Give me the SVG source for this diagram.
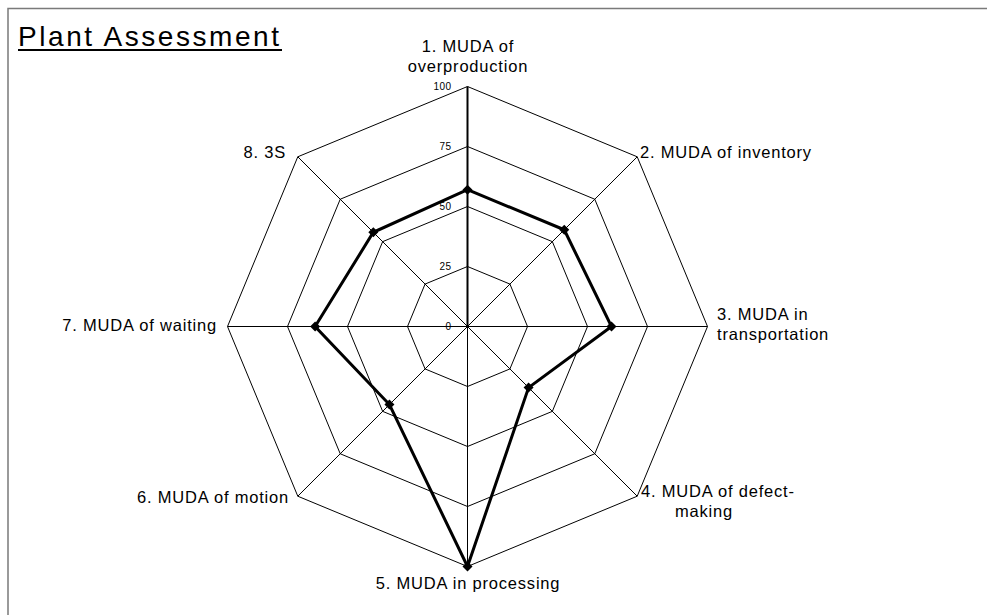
<svg xmlns="http://www.w3.org/2000/svg" width="987" height="615" viewBox="0 0 987 615">
  <style>
    .frame { fill: none; stroke: #7a7a7a; stroke-width: 1.5; }
    .ring { fill: none; stroke: #000; stroke-width: 1; }
    .spoke { stroke: #000; stroke-width: 1; }
    .axis { stroke: #000; stroke-width: 2; }
    .series { fill: none; stroke: #000; stroke-width: 3; stroke-linejoin: miter; }
    .cat { font-family: "Liberation Sans", Arial, sans-serif; font-size: 16.5px; letter-spacing: 0.8px; fill: #000; }
    .tick { font-family: "Liberation Sans", Arial, sans-serif; font-size: 10px; letter-spacing: 0.4px; fill: #000; text-anchor: end; }
    .title { font-family: "Liberation Sans", Arial, sans-serif; font-size: 28px; fill: #000; }
  </style>
  <defs>
    <path id="pt" d="M0,-5 L5,0 L0,5 L-5,0 Z" fill="#000"/>
  </defs>

  <rect width="987" height="615" fill="#fff"/>
  <!-- chart area frame -->
  <path class="frame" d="M8,620 L8,8.5 L990,8.5"/>

  <!-- title -->
  <g id="title">
    <text class="title" x="18" y="45.5" textLength="261" lengthAdjust="spacing">Plant Assessment</text>
    <rect x="18" y="49" width="264" height="2" fill="#000"/>
  </g>

  <!-- grid: rings at 25, 50, 75, 100 and spokes -->
  <g id="grid">
    <polygon class="ring" points="467.5,266.5 509.93,284.07 527.5,326.5 509.93,368.93 467.5,386.5 425.07,368.93 407.5,326.5 425.07,284.07"/>
    <polygon class="ring" points="467.5,206.5 552.35,241.65 587.5,326.5 552.35,411.35 467.5,446.5 382.65,411.35 347.5,326.5 382.65,241.65"/>
    <polygon class="ring" points="467.5,146.5 594.78,199.22 647.5,326.5 594.78,453.78 467.5,506.5 340.22,453.78 287.5,326.5 340.22,199.22"/>
    <polygon class="ring" points="467.5,86.5 637.21,156.79 707.5,326.5 637.21,496.21 467.5,566.5 297.79,496.21 227.5,326.5 297.79,156.79"/>
    <line class="spoke" x1="467.5" y1="326.5" x2="637.21" y2="156.79"/>
    <line class="spoke" x1="467.5" y1="326.5" x2="707.5" y2="326.5"/>
    <line class="spoke" x1="467.5" y1="326.5" x2="637.21" y2="496.21"/>
    <line class="spoke" x1="467.5" y1="326.5" x2="467.5" y2="566.5"/>
    <line class="spoke" x1="467.5" y1="326.5" x2="297.79" y2="496.21"/>
    <line class="spoke" x1="467.5" y1="326.5" x2="227.5" y2="326.5"/>
    <line class="spoke" x1="467.5" y1="326.5" x2="297.79" y2="156.79"/>
    <line class="axis" x1="467.5" y1="326.5" x2="467.5" y2="86.5"/>
  </g>

  <!-- value axis labels -->
  <g id="ticks">
    <text class="tick" x="451.5" y="90.3">100</text>
    <text class="tick" x="451.5" y="150.3">75</text>
    <text class="tick" x="451.5" y="210.3">50</text>
    <text class="tick" x="451.5" y="270.3">25</text>
    <text class="tick" x="451.5" y="330.3">0</text>
  </g>

  <!-- data series -->
  <g id="series">
    <polygon class="series" points="467.5,189.7 564.23,229.77 611.5,326.5 528.59,387.59 467.5,566.5 389.44,404.56 315.1,326.5 373.3,232.3"/>
    <use href="#pt" x="467.5" y="189.7"/>
    <use href="#pt" x="564.23" y="229.77"/>
    <use href="#pt" x="611.5" y="326.5"/>
    <use href="#pt" x="528.59" y="387.59"/>
    <use href="#pt" x="467.5" y="566.5"/>
    <use href="#pt" x="389.44" y="404.56"/>
    <use href="#pt" x="315.1" y="326.5"/>
    <use href="#pt" x="373.3" y="232.3"/>
  </g>

  <!-- category labels -->
  <g id="cat1"><text class="cat" text-anchor="middle"><tspan x="468" y="52">1. MUDA of</tspan><tspan x="468" y="71.5">overproduction</tspan></text></g>
  <g id="cat2"><text class="cat" x="640" y="157.5">2. MUDA of inventory</text></g>
  <g id="cat3"><text class="cat"><tspan x="717" y="320">3. MUDA in</tspan><tspan x="717" y="340">transportation</tspan></text></g>
  <g id="cat4"><text class="cat"><tspan x="641" y="497">4. MUDA of defect-</tspan><tspan x="675" y="517">making</tspan></text></g>
  <g id="cat5"><text class="cat" x="468" y="589" text-anchor="middle">5. MUDA in processing</text></g>
  <g id="cat6"><text class="cat" x="289" y="503" text-anchor="end">6. MUDA of motion</text></g>
  <g id="cat7"><text class="cat" x="217" y="331" text-anchor="end">7. MUDA of waiting</text></g>
  <g id="cat8"><text class="cat" x="286" y="158" text-anchor="end">8. 3S</text></g>
</svg>
